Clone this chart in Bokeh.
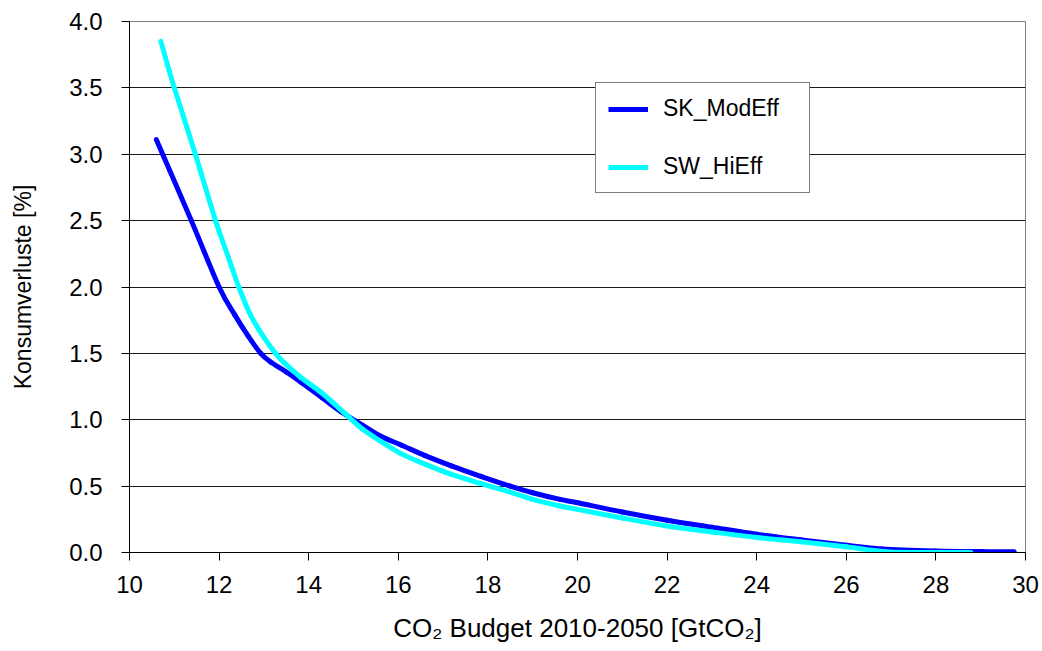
from bokeh.plotting import figure
from bokeh.models import Range1d, FixedTicker, NumeralTickFormatter, Legend, LegendItem
from bokeh.embed import file_html
from bokeh.resources import INLINE

# Data
sk_x = [10.6, 11.38, 12.0, 12.35, 12.65, 12.93, 13.15, 13.5, 13.82, 14.3, 14.72, 15.2,
        15.61, 16.06, 16.6, 17.17, 17.84, 18.5, 19.0, 19.61, 20.0, 21.0, 22.0, 23.0, 24.0,
        25.0, 26.0, 26.8, 28.0, 29.0, 29.75]
sk_y = [3.11, 2.5, 2.0, 1.79, 1.63, 1.5, 1.435, 1.36, 1.285, 1.165, 1.06, 0.96,
        0.875, 0.81, 0.73, 0.655, 0.574, 0.5, 0.45, 0.40, 0.375, 0.305, 0.243, 0.19, 0.138,
        0.095, 0.055, 0.027, 0.012, 0.007, 0.005]

sw_x = [10.7, 11.0, 11.47, 11.92, 12.2, 12.44, 12.7, 13.0, 13.26, 13.45, 13.82, 14.3, 14.8,
        15.2, 15.61, 16.06, 16.6, 17.17, 17.84, 18.07, 18.5, 19.0, 19.61, 20.0, 21.0, 22.0,
        23.0, 24.0, 25.0, 26.0, 26.8, 27.5, 28.78]
sw_y = [3.85, 3.5, 3.0, 2.5, 2.23, 2.0, 1.79, 1.62, 1.5, 1.43, 1.32, 1.2, 1.05,
        0.93, 0.837, 0.745, 0.665, 0.59, 0.52, 0.497, 0.455, 0.40, 0.35, 0.325, 0.26, 0.20,
        0.155, 0.113, 0.08, 0.043, 0.008, 0.0, 0.0]

series_names = ["SK_ModEff", "SW_HiEff"]
series_colors = ["#0000FF", "#00FFFF"]
x_ticks = [10, 12, 14, 16, 18, 20, 22, 24, 26, 28, 30]
y_ticks = [0.0, 0.5, 1.0, 1.5, 2.0, 2.5, 3.0, 3.5, 4.0]

FONT = "Liberation Sans"


def smooth_segments(xs, ys):
    """Excel-like smoothed line: cubic Bezier control points (Catmull-Rom, tension 1/6)."""
    n = len(xs)
    seg = dict(x0=[], y0=[], x1=[], y1=[], cx0=[], cy0=[], cx1=[], cy1=[])
    for i in range(n - 1):
        p0 = (xs[max(i - 1, 0)], ys[max(i - 1, 0)])
        p1 = (xs[i], ys[i])
        p2 = (xs[i + 1], ys[i + 1])
        p3 = (xs[min(i + 2, n - 1)], ys[min(i + 2, n - 1)])
        seg["x0"].append(p1[0]); seg["y0"].append(p1[1])
        seg["x1"].append(p2[0]); seg["y1"].append(p2[1])
        seg["cx0"].append(p1[0] + (p2[0] - p0[0]) / 6.0)
        seg["cy0"].append(max(p1[1] + (p2[1] - p0[1]) / 6.0, 0.0))
        seg["cx1"].append(p2[0] - (p3[0] - p1[0]) / 6.0)
        seg["cy1"].append(max(p2[1] - (p3[1] - p1[1]) / 6.0, 0.0))
    return seg


p = figure(width=1040, height=645, output_backend="svg", toolbar_location=None,
           x_range=Range1d(10, 30), y_range=Range1d(0, 4),
           min_border_left=129, min_border_top=21, min_border_right=15, min_border_bottom=90)
p.background_fill_color = "white"
p.border_fill_color = "white"
p.outline_line_color = "#808080"
p.outline_line_width = 1

# grids
p.xgrid.grid_line_color = None
p.ygrid.grid_line_color = "#1a1a1a"
p.ygrid.grid_line_width = 1
p.ygrid.ticker = FixedTicker(ticks=y_ticks)

# axes
p.xaxis.ticker = FixedTicker(ticks=x_ticks)
p.yaxis.ticker = FixedTicker(ticks=y_ticks)
p.yaxis.formatter = NumeralTickFormatter(format="0.0")
for ax in (p.xaxis[0], p.yaxis[0]):
    ax.axis_line_color = "black"
    ax.major_tick_line_color = "black"
    ax.major_tick_out = 8
    ax.major_tick_in = 0
    ax.minor_tick_line_color = None
    ax.major_label_text_font = FONT
    ax.major_label_text_font_size = "24px"
    ax.major_label_text_color = "black"
    ax.axis_label_text_font = FONT
    ax.axis_label_text_font_style = "normal"
    ax.axis_label_text_color = "black"

p.xaxis.axis_label = "CO\u2082 Budget 2010-2050 [GtCO\u2082]"
p.yaxis.axis_label = "Konsumverluste [%]"
p.xaxis.axis_label_text_font_size = "26px"
p.yaxis.axis_label_text_font_size = "23px"
p.xaxis.major_label_standoff = 15
p.xaxis.axis_label_standoff = 17
p.yaxis.major_label_standoff = 19
p.yaxis.axis_label_standoff = 30

renderers = []
for xs, ys, col in ((sk_x, sk_y, series_colors[0]), (sw_x, sw_y, series_colors[1])):
    s = smooth_segments(xs, ys)
    p.bezier(x0=s["x0"], y0=s["y0"], x1=s["x1"], y1=s["y1"],
             cx0=s["cx0"], cy0=s["cy0"], cx1=s["cx1"], cy1=s["cy1"],
             line_color=col, line_width=5, line_cap="round")
    # legend-only renderer (a single NaN point, draws nothing) carrying the line style
    renderers.append(p.line(x=[float("nan")], y=[float("nan")], line_color=col, line_width=5))

legend = Legend(items=[LegendItem(label=series_names[0], renderers=[renderers[0]]),
                       LegendItem(label=series_names[1], renderers=[renderers[1]])],
                location=(466, 359), orientation="vertical")
legend.label_text_font = FONT
legend.label_text_font_size = "23px"
legend.label_text_color = "black"
legend.glyph_width = 40
legend.glyph_height = 20
legend.label_height = 20
legend.label_width = 134
legend.label_standoff = 15
legend.spacing = 31
legend.padding = 12
legend.margin = 0
legend.border_line_color = "black"
legend.border_line_width = 1
legend.background_fill_color = "white"
legend.background_fill_alpha = 1
legend.click_policy = "none"
p.add_layout(legend, "center")

open("out.html", "w").write(file_html(p, INLINE))
